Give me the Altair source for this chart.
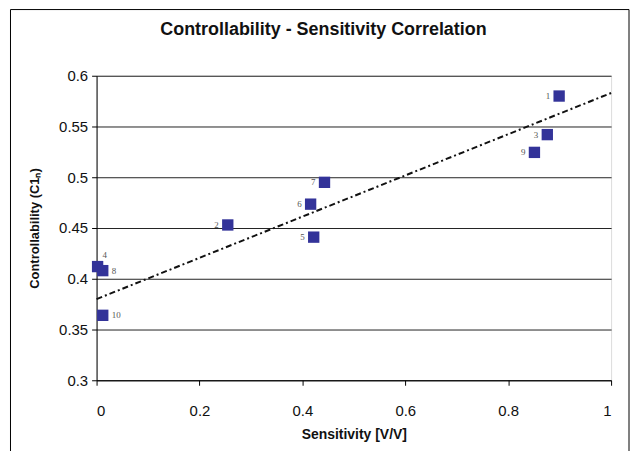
import altair as alt
import pandas as pd

point_ids = ["1", "2", "3", "4", "5", "6", "7", "8", "9", "10"]
sensitivity = [0.899, 0.255, 0.876, 0.002, 0.422, 0.416, 0.443, 0.012, 0.851, 0.012]
controllability = [0.580, 0.453, 0.542, 0.412, 0.441, 0.4735, 0.495, 0.408, 0.5245, 0.364]

trend_x = [0.0, 1.0]
trend_y = [0.380, 0.583]

left_labels = ["1", "2", "3", "5", "6", "7", "9"]
right_labels = ["8", "10"]
top_labels = ["4"]

x_ticks = [0, 0.2, 0.4, 0.6, 0.8, 1]
y_ticks = [0.3, 0.35, 0.4, 0.45, 0.5, 0.55, 0.6]

title_text = "Controllability - Sensitivity Correlation"

df = pd.DataFrame({"id": point_ids, "s": sensitivity, "c": controllability})
tdf = pd.DataFrame({"s": trend_x, "c": trend_y})

W, H = 517, 306

xs = alt.Scale(domain=[0, 1], nice=False, zero=False)
ys = alt.Scale(domain=[0.3, 0.6], nice=False, zero=False)

x_enc = alt.X("s:Q", scale=xs, axis=alt.Axis(
    title="Sensitivity [V/V]", values=x_ticks, format="~g", grid=False,
    labelFontSize=15, labelPadding=18, titleFontSize=14, titleFontWeight="bold",
    titlePadding=10, domainColor="#000", tickColor="#000",
    labelColor="#111", titleColor="#111"))
y_enc = alt.Y("c:Q", scale=ys, axis=alt.Axis(
    title="Controllability (C1ₙ)", values=y_ticks, format="~g", grid=True,
    gridColor="#222", gridWidth=1, labelFontSize=15, labelPadding=4,
    titleFontSize=13, titleFontWeight="bold", titlePadding=17,
    domainColor="#000", tickColor="#000", labelColor="#111", titleColor="#111"))

base = alt.Chart(df)

points = base.mark_square(size=130, color="#333399", opacity=1).encode(x=x_enc, y=y_enc)

trend = alt.Chart(tdf).mark_line(
    color="#111", strokeWidth=2, strokeDash=[6, 3, 2, 3]
).encode(x=alt.X("s:Q", scale=xs), y=alt.Y("c:Q", scale=ys))

lbl_style = dict(font="Liberation Serif", fontSize=9, color="#555")
lab_left = base.transform_filter(alt.FieldOneOfPredicate(field="id", oneOf=left_labels)).mark_text(
    align="right", dx=-9, **lbl_style).encode(x=alt.X("s:Q", scale=xs), y=alt.Y("c:Q", scale=ys), text="id:N")
lab_right = base.transform_filter(alt.FieldOneOfPredicate(field="id", oneOf=right_labels)).mark_text(
    align="left", dx=9, **lbl_style).encode(x=alt.X("s:Q", scale=xs), y=alt.Y("c:Q", scale=ys), text="id:N")
lab_top = base.transform_filter(alt.FieldOneOfPredicate(field="id", oneOf=top_labels)).mark_text(
    align="left", dx=5, dy=-12, **lbl_style).encode(x=alt.X("s:Q", scale=xs), y=alt.Y("c:Q", scale=ys), text="id:N")

title = alt.Chart(pd.DataFrame({"t": [title_text]})).mark_text(
    fontSize=18, fontWeight="bold", color="#111", align="center", baseline="middle"
).encode(x=alt.value(228), y=alt.value(-46), text="t:N")

frame = alt.Chart(pd.DataFrame({"a": [0]})).mark_rect(
    fill=None, stroke="#000", strokeWidth=1, clip=False
).encode(x=alt.value(-86.5), x2=alt.value(535), y=alt.value(-66.5), y2=alt.value(420))

chart = alt.layer(trend, points, lab_left, lab_right, lab_top, title, frame).properties(
    width=W, height=H,
    autosize=alt.AutoSizeParams(type="none"),
    padding={"left": 89, "top": 67, "right": 20, "bottom": 70},
).configure_view(
    fill="#F5F3D7", stroke="#888", strokeWidth=1
).configure(font="Liberation Sans", background="white")

chart.save("out.html", embed_options={"renderer": "svg", "actions": False})
